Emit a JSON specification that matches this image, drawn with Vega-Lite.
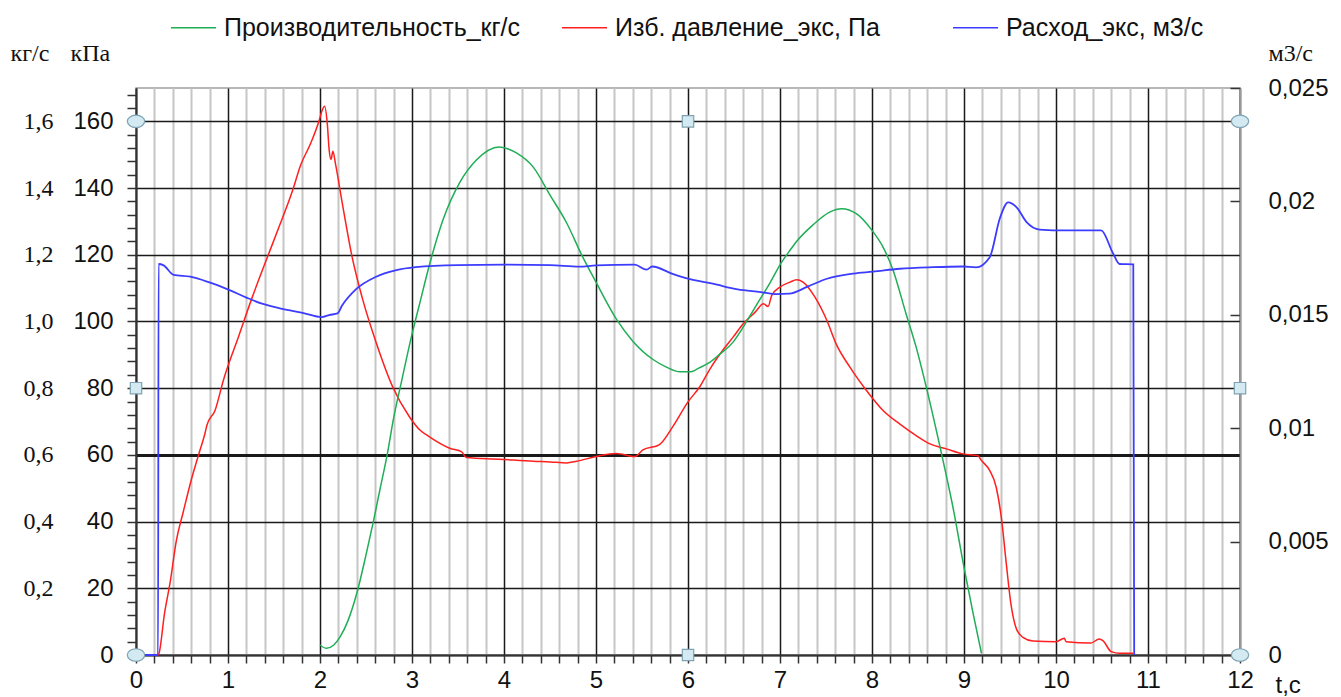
{
  "$schema": "https://vega.github.io/schema/vega-lite/v6.json",
  "autosize": {"type": "none"},
  "padding": {"left": 136, "top": 88, "right": 101, "bottom": 42},
  "width": 1104,
  "height": 567,
  "background": "white",
  "config": {
    "view": {"stroke": "#a0a0a0", "strokeWidth": 1.5},
    "axis": {"labelFont": "Liberation Sans", "titleFont": "Liberation Serif", "labelColor": "#111", "titleColor": "#111", "titleFontWeight": "normal", "labelFontSize": 24, "titleFontSize": 24}
  },
  "datasets": {
    "pressure": [
      {"t": 0, "v": 0}, {"t": 0.24, "v": 0}, {"t": 0.25, "v": 0.5}, {"t": 0.31, "v": 12.5}, {"t": 0.37, "v": 21.6},
      {"t": 0.44, "v": 34.5}, {"t": 0.51, "v": 42.5}, {"t": 0.6, "v": 52.4}, {"t": 0.68, "v": 60}, {"t": 0.75, "v": 66.5},
      {"t": 0.77, "v": 68.8}, {"t": 0.86, "v": 73.4}, {"t": 0.95, "v": 82.4}, {"t": 1.12, "v": 95.9}, {"t": 1.26, "v": 107},
      {"t": 1.41, "v": 118}, {"t": 1.55, "v": 128}, {"t": 1.7, "v": 139.1}, {"t": 1.79, "v": 146.9}, {"t": 1.9, "v": 153.5},
      {"t": 1.99, "v": 160.2}, {"t": 2.02, "v": 163}, {"t": 2.05, "v": 164.5}, {"t": 2.08, "v": 159}, {"t": 2.1, "v": 151.3},
      {"t": 2.12, "v": 148.6}, {"t": 2.14, "v": 151}, {"t": 2.17, "v": 147}, {"t": 2.24, "v": 135.8}, {"t": 2.35, "v": 119.2},
      {"t": 2.46, "v": 107}, {"t": 2.61, "v": 93.7}, {"t": 2.79, "v": 80.4}, {"t": 2.97, "v": 71.5}, {"t": 3.08, "v": 67.6},
      {"t": 3.19, "v": 65.4}, {"t": 3.41, "v": 62}, {"t": 3.54, "v": 60.9}, {"t": 3.59, "v": 59.2}, {"t": 3.95, "v": 58.7},
      {"t": 4.32, "v": 58.1}, {"t": 4.5, "v": 57.9}, {"t": 4.68, "v": 57.6}, {"t": 4.79, "v": 58.1}, {"t": 5.0, "v": 59.5},
      {"t": 5.22, "v": 60.4}, {"t": 5.42, "v": 59.5}, {"t": 5.51, "v": 61.5}, {"t": 5.69, "v": 63.1}, {"t": 5.84, "v": 68.7},
      {"t": 6.0, "v": 75.9}, {"t": 6.13, "v": 80.5}, {"t": 6.24, "v": 85.8}, {"t": 6.39, "v": 91.8}, {"t": 6.49, "v": 95.3},
      {"t": 6.6, "v": 99.3}, {"t": 6.73, "v": 102.8}, {"t": 6.82, "v": 105.3}, {"t": 6.87, "v": 104.5}, {"t": 6.91, "v": 107.8},
      {"t": 7.0, "v": 110.3}, {"t": 7.11, "v": 111.8}, {"t": 7.18, "v": 112.5}, {"t": 7.25, "v": 111.8}, {"t": 7.38, "v": 107.3},
      {"t": 7.51, "v": 100.3}, {"t": 7.61, "v": 93.3}, {"t": 7.76, "v": 86.3}, {"t": 7.94, "v": 79.3}, {"t": 8.12, "v": 73.3},
      {"t": 8.3, "v": 69.3}, {"t": 8.48, "v": 65.8}, {"t": 8.63, "v": 63.3}, {"t": 8.81, "v": 61.8}, {"t": 8.99, "v": 60.3},
      {"t": 9.15, "v": 59.8}, {"t": 9.19, "v": 58.3}, {"t": 9.28, "v": 55.3}, {"t": 9.35, "v": 50.3}, {"t": 9.41, "v": 40.3},
      {"t": 9.46, "v": 27.3}, {"t": 9.51, "v": 15.3}, {"t": 9.57, "v": 7.8}, {"t": 9.64, "v": 5.3}, {"t": 9.75, "v": 4.2},
      {"t": 10.0, "v": 4.0}, {"t": 10.09, "v": 5}, {"t": 10.11, "v": 4}, {"t": 10.38, "v": 3.6}, {"t": 10.47, "v": 4.8},
      {"t": 10.51, "v": 4.3}, {"t": 10.6, "v": 1}, {"t": 10.69, "v": 0.5}, {"t": 10.84, "v": 0.5}
    ],
    "output": [
      {"t": 2.0, "v": 0.03}, {"t": 2.07, "v": 0.02}, {"t": 2.15, "v": 0.03}, {"t": 2.22, "v": 0.055}, {"t": 2.3, "v": 0.1},
      {"t": 2.4, "v": 0.185}, {"t": 2.5, "v": 0.3}, {"t": 2.58, "v": 0.4}, {"t": 2.65, "v": 0.494}, {"t": 2.73, "v": 0.6},
      {"t": 2.8, "v": 0.71}, {"t": 2.89, "v": 0.825}, {"t": 2.99, "v": 0.95}, {"t": 3.08, "v": 1.05}, {"t": 3.19, "v": 1.17},
      {"t": 3.34, "v": 1.307}, {"t": 3.52, "v": 1.417}, {"t": 3.7, "v": 1.484}, {"t": 3.95, "v": 1.523}, {"t": 4.13, "v": 1.506},
      {"t": 4.32, "v": 1.462}, {"t": 4.5, "v": 1.379}, {"t": 4.68, "v": 1.296}, {"t": 4.84, "v": 1.202}, {"t": 5.0, "v": 1.118},
      {"t": 5.22, "v": 1.008}, {"t": 5.4, "v": 0.941}, {"t": 5.62, "v": 0.886}, {"t": 5.76, "v": 0.864}, {"t": 5.91, "v": 0.849},
      {"t": 6.02, "v": 0.849}, {"t": 6.13, "v": 0.862}, {"t": 6.24, "v": 0.878}, {"t": 6.35, "v": 0.903}, {"t": 6.49, "v": 0.938},
      {"t": 6.57, "v": 0.97}, {"t": 6.67, "v": 1.015}, {"t": 6.75, "v": 1.052}, {"t": 6.89, "v": 1.115}, {"t": 7.0, "v": 1.17},
      {"t": 7.1, "v": 1.21}, {"t": 7.18, "v": 1.24}, {"t": 7.36, "v": 1.29}, {"t": 7.54, "v": 1.328}, {"t": 7.67, "v": 1.338},
      {"t": 7.83, "v": 1.323}, {"t": 8.0, "v": 1.273}, {"t": 8.12, "v": 1.223}, {"t": 8.23, "v": 1.153}, {"t": 8.37, "v": 1.023},
      {"t": 8.48, "v": 0.923}, {"t": 8.59, "v": 0.803}, {"t": 8.74, "v": 0.623}, {"t": 8.88, "v": 0.443}, {"t": 9.0, "v": 0.263},
      {"t": 9.1, "v": 0.123}, {"t": 9.19, "v": 0.005}
    ],
    "flow": [
      {"t": 0, "v": 0}, {"t": 0.24, "v": 0}, {"t": 0.245, "v": 0.01724}, {"t": 0.3, "v": 0.01718}, {"t": 0.41, "v": 0.01676},
      {"t": 0.59, "v": 0.01668}, {"t": 0.79, "v": 0.01644}, {"t": 1.01, "v": 0.0161}, {"t": 1.2, "v": 0.01576}, {"t": 1.37, "v": 0.01549},
      {"t": 1.59, "v": 0.01526}, {"t": 1.81, "v": 0.01509}, {"t": 2.02, "v": 0.0149}, {"t": 2.1, "v": 0.01499}, {"t": 2.19, "v": 0.01506},
      {"t": 2.24, "v": 0.01541}, {"t": 2.39, "v": 0.01612}, {"t": 2.61, "v": 0.01668}, {"t": 2.82, "v": 0.01696}, {"t": 3.04, "v": 0.0171},
      {"t": 3.5, "v": 0.01719}, {"t": 4.0, "v": 0.01721}, {"t": 4.5, "v": 0.01719}, {"t": 4.82, "v": 0.01712}, {"t": 5.0, "v": 0.01718},
      {"t": 5.42, "v": 0.01721}, {"t": 5.55, "v": 0.01699}, {"t": 5.61, "v": 0.01713}, {"t": 5.84, "v": 0.01679}, {"t": 6.0, "v": 0.01659},
      {"t": 6.27, "v": 0.01637}, {"t": 6.54, "v": 0.01612}, {"t": 6.79, "v": 0.016}, {"t": 6.96, "v": 0.01591}, {"t": 7.1, "v": 0.01593},
      {"t": 7.3, "v": 0.01624}, {"t": 7.51, "v": 0.01659}, {"t": 7.8, "v": 0.01682}, {"t": 8.01, "v": 0.0169}, {"t": 8.3, "v": 0.01703},
      {"t": 8.66, "v": 0.0171}, {"t": 8.99, "v": 0.01713}, {"t": 9.13, "v": 0.01709}, {"t": 9.28, "v": 0.01754}, {"t": 9.39, "v": 0.01926},
      {"t": 9.48, "v": 0.01996}, {"t": 9.57, "v": 0.01975}, {"t": 9.68, "v": 0.01909}, {"t": 9.82, "v": 0.01876}, {"t": 10.11, "v": 0.01872},
      {"t": 10.49, "v": 0.01872}, {"t": 10.62, "v": 0.01771}, {"t": 10.69, "v": 0.01724}, {"t": 10.84, "v": 0.01722}, {"t": 10.85, "v": 0}
    ],
    "handles": [
      {"t": 0, "v": 0, "kind": "circle"}, {"t": 0, "v": 160, "kind": "circle"}, {"t": 12, "v": 0, "kind": "circle"}, {"t": 12, "v": 160, "kind": "circle"},
      {"t": 6, "v": 160, "kind": "square"}, {"t": 6, "v": 0, "kind": "square"}, {"t": 0, "v": 80, "kind": "square"}, {"t": 12, "v": 80, "kind": "square"}
    ]
  },
  "encoding": {
    "x": {
      "field": "t", "type": "quantitative",
      "scale": {"domain": [0, 12], "nice": false, "zero": false},
      "axis": {
        "values": [0,0.2,0.4,0.6,0.8,1,1.2,1.4,1.6,1.8,2,2.2,2.4,2.6,2.8,3,3.2,3.4,3.6,3.8,4,4.2,4.4,4.6,4.8,5,5.2,5.4,5.6,5.8,6,6.2,6.4,6.6,6.8,7,7.2,7.4,7.6,7.8,8,8.2,8.4,8.6,8.8,9,9.2,9.4,9.6,9.8,10,10.2,10.4,10.6,10.8,11,11.2,11.4,11.6,11.8,12],
        "labelExpr": "abs(datum.value - round(datum.value)) < 0.01 ? format(round(datum.value), 'd') : ''",
        "title": "t,c", "titleFont": "Liberation Sans", "titleAngle": 0, "titleAlign": "left", "titleBaseline": "alphabetic",
        "titleX": 1139, "titleY": 37,
        "grid": true,
        "gridColor": {"condition": {"test": "abs(datum.value - round(datum.value)) < 0.01", "value": "#1a1a1a"}, "value": "#c6c6c6"},
        "gridWidth": {"condition": {"test": "abs(datum.value - round(datum.value)) < 0.01", "value": 1.5}, "value": 2},
        "tickSize": 8, "tickColor": "#333", "tickWidth": 1.5,
        "domainColor": "#333", "domainWidth": 2,
        "labelPadding": 5, "labelFlush": false, "labelOverlap": false
      }
    }
  },
  "layer": [
    {
      "data": {"name": "pressure"},
      "transform": [{"calculate": "'Изб. давление_экс, Па'", "as": "series"}],
      "mark": {"type": "line", "strokeWidth": 1.5, "interpolate": "monotone"},
      "encoding": {
        "y": {
          "field": "v", "type": "quantitative",
          "scale": {"domain": [0, 170], "nice": false},
          "axis": {
            "orient": "left",
            "values": [0,4,8,12,16,20,24,28,32,36,40,44,48,52,56,60,64,68,72,76,80,84,88,92,96,100,104,108,112,116,120,124,128,132,136,140,144,148,152,156,160,164,168],
            "labelExpr": "datum.value % 20 == 0 ? format(datum.value, 'd') : ''",
            "grid": true,
            "gridColor": "#1a1a1a",
            "gridOpacity": {"condition": {"test": "datum.value % 20 == 0", "value": 1}, "value": 0},
            "gridWidth": {"condition": {"test": "datum.value == 60", "value": 3}, "value": 1.5},
            "tickSize": 9, "tickColor": "#333", "tickWidth": 1.5,
            "domainColor": "#333", "domainWidth": 2,
            "labelPadding": 14, "labelOverlap": false, "labelFlush": false,
            "title": "кПа", "titleAngle": 0, "titleAlign": "left", "titleBaseline": "alphabetic",
            "titleX": -66, "titleY": -28
          }
        },
        "color": {
          "field": "series", "type": "nominal",
          "scale": {"domain": ["Производительность_кг/с", "Изб. давление_экс, Па", "Расход_экс, м3/с"], "range": ["#1fae55", "#ff1f1f", "#3c3cff"]},
          "legend": {
            "title": null, "orient": "none", "direction": "horizontal", "legendX": 34, "legendY": -84,
            "symbolType": "stroke", "symbolSize": 2025, "symbolStrokeWidth": 1.5,
            "labelFont": "Liberation Sans", "labelFontSize": 25, "labelColor": "#111", "labelOffset": 7,
            "gridAlign": "all", "columnPadding": 38, "labelLimit": 400
          }
        }
      }
    },
    {
      "data": {"name": "output"},
      "transform": [{"calculate": "'Производительность_кг/с'", "as": "series"}],
      "mark": {"type": "line", "strokeWidth": 1.5, "interpolate": "monotone"},
      "encoding": {
        "y": {
          "field": "v", "type": "quantitative",
          "scale": {"domain": [0, 1.7], "nice": false},
          "axis": {
            "orient": "left", "offset": 81,
            "values": [0.2,0.4,0.6,0.8,1.0,1.2,1.4,1.6],
            "labelExpr": "replace(format(datum.value, '.1f'), '.', ',')",
            "labelFont": "Liberation Serif",
            "grid": false, "ticks": false, "domain": false, "labelPadding": 2,
            "title": "кг/с", "titleAngle": 0, "titleAlign": "left", "titleBaseline": "alphabetic",
            "titleX": -45, "titleY": -28
          }
        },
        "color": {"field": "series", "type": "nominal"}
      }
    },
    {
      "data": {"name": "flow"},
      "transform": [{"calculate": "'Расход_экс, м3/с'", "as": "series"}],
      "mark": {"type": "line", "strokeWidth": 1.8, "interpolate": "monotone"},
      "encoding": {
        "y": {
          "field": "v", "type": "quantitative",
          "scale": {"domain": [0, 0.025], "nice": false},
          "axis": {
            "orient": "right",
            "values": [0, 0.005, 0.01, 0.015, 0.02, 0.025],
            "labelExpr": "replace(format(datum.value, '~g'), '.', ',')",
            "grid": false, "tickSize": -10, "tickColor": "#333", "tickWidth": 1.5,
            "domainColor": "#999", "domainWidth": 1.5,
            "labelPadding": 38, "labelFlush": false, "labelOverlap": false,
            "title": "м3/с", "titleAngle": 0, "titleAlign": "left", "titleBaseline": "alphabetic",
            "titleX": 28, "titleY": -28
          }
        },
        "color": {"field": "series", "type": "nominal"}
      }
    },
    {
      "data": {"name": "handles"},
      "mark": {"type": "point", "filled": true, "fill": "#d3eaf2", "stroke": "#7fa3b3", "strokeWidth": 1.2, "opacity": 1},
      "encoding": {
        "y": {"field": "v", "type": "quantitative", "scale": {"domain": [0, 170], "nice": false}, "axis": null},
        "shape": {"field": "kind", "type": "nominal", "scale": {"domain": ["circle", "square"], "range": ["M -1 0 A 1 0.72 0 1 1 1 0 A 1 0.72 0 1 1 -1 0 Z", "square"]}, "legend": null},
        "size": {"field": "kind", "type": "nominal", "scale": {"domain": ["circle", "square"], "range": [300, 130]}, "legend": null}
      }
    }
  ],
  "resolve": {"scale": {"y": "independent"}, "axis": {"y": "independent"}}
}
